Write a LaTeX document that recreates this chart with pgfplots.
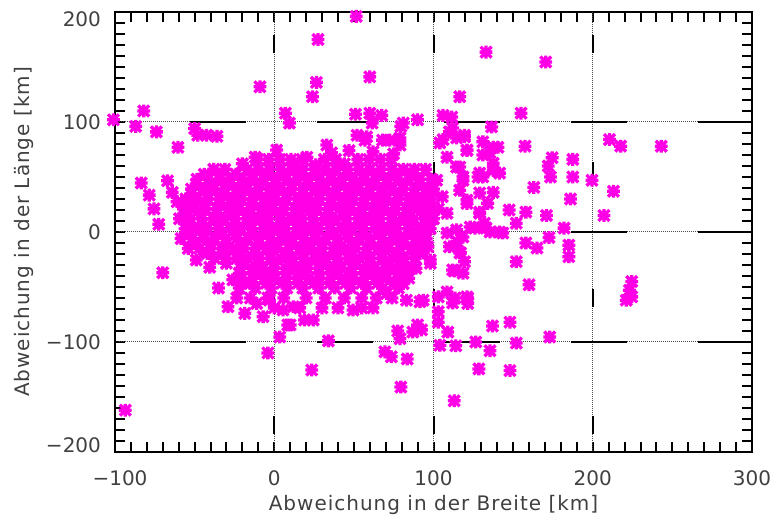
\documentclass[border=0pt]{standalone}
\usepackage{fontspec}
\setmainfont{DejaVu Sans}
\usepackage{pgfplots}
\pgfplotsset{compat=1.18}
\definecolor{mag}{RGB}{255,0,230}
\pgfdeclareplotmark{idlast}{%
 \pgfpathmoveto{\pgfqpoint{-\pgfplotmarksize}{0pt}}\pgfpathlineto{\pgfqpoint{\pgfplotmarksize}{0pt}}%
 \pgfpathmoveto{\pgfqpoint{0pt}{-\pgfplotmarksize}}\pgfpathlineto{\pgfqpoint{0pt}{\pgfplotmarksize}}%
 \pgfpathmoveto{\pgfqpoint{-.85\pgfplotmarksize}{-.85\pgfplotmarksize}}\pgfpathlineto{\pgfqpoint{.85\pgfplotmarksize}{.85\pgfplotmarksize}}%
 \pgfpathmoveto{\pgfqpoint{-.85\pgfplotmarksize}{.85\pgfplotmarksize}}\pgfpathlineto{\pgfqpoint{.85\pgfplotmarksize}{-.85\pgfplotmarksize}}%
 \pgfusepathqstroke}
\begin{document}
\begin{tikzpicture}
\useasboundingbox (-57.5pt,-32.5pt) rectangle (328pt,226pt);
\begin{axis}[
  scale only axis, width=318.5pt, height=220pt,
  at={(0,0)}, anchor=south west,
  xmin=-100, xmax=300, ymin=-200, ymax=200,
  xtick={-100,0,100,200,300}, ytick={-200,-100,0,100,200},
  xticklabels={\hspace{5pt}−100,0,100,200,300\hspace{4.5pt}},
  yticklabels={\raisebox{3.6pt}{−200},−100,0,100,\raisebox{-3.4pt}{200}},
  minor x tick num=9, minor y tick num=9,
  tick align=inside, major tick length=5pt, minor tick length=5pt,
  every tick/.style={black, line width=1pt},
  axis line style={black, line width=1.1pt},
  font=\fontsize{10}{12}\selectfont,
  ticklabel style={black!75},
  xticklabel style={anchor=base, yshift=-17pt},
  yticklabel style={anchor=base east, yshift=-3.65pt, xshift=-3.5pt},
  xlabel={Abweichung in der Breite [km]},
  ylabel={Abweichung in der Länge [km]},
  label style={black!75, font=\fontsize{10}{12}\selectfont\addfontfeatures{LetterSpace=5}},
  xlabel style={at={(axis description cs:0.5,-0.132)}, anchor=base},
  ylabel style={at={(axis description cs:-0.135,0.5)}, anchor=base},
  clip=false,
]
% grid: dotted base
\draw[black!70, line width=0.5pt, dash pattern=on 0.5pt off 0.5pt] (axis cs:-100,-100) -- (axis cs:300,-100);
\draw[black!70, line width=0.5pt, dash pattern=on 0.5pt off 0.5pt] (axis cs:-100,0) -- (axis cs:300,0);
\draw[black!70, line width=0.5pt, dash pattern=on 0.5pt off 0.5pt] (axis cs:-100,100) -- (axis cs:300,100);
\draw[black!70, line width=0.5pt, dash pattern=on 0.5pt off 0.5pt] (axis cs:0,200) -- (axis cs:0,-200);
\draw[black!70, line width=0.5pt, dash pattern=on 0.5pt off 0.5pt] (axis cs:100,200) -- (axis cs:100,-200);
\draw[black!70, line width=0.5pt, dash pattern=on 0.5pt off 0.5pt] (axis cs:200,200) -- (axis cs:200,-200);
% grid: long solid dashes
\draw[black, line width=1pt, dash pattern=on 28pt off 35.5pt, dash phase=26pt] (axis cs:-100,-100) -- (axis cs:300,-100);
\draw[black, line width=1pt, dash pattern=on 28pt off 35.5pt, dash phase=26pt] (axis cs:-100,0) -- (axis cs:300,0);
\draw[black, line width=1pt, dash pattern=on 28pt off 35.5pt, dash phase=26pt] (axis cs:-100,100) -- (axis cs:300,100);
\draw[black, line width=1pt, dash pattern=on 9pt off 54.5pt, dash phase=52pt] (axis cs:0,200) -- (axis cs:0,-200);
\draw[black, line width=1pt, dash pattern=on 9pt off 54.5pt, dash phase=52pt] (axis cs:100,200) -- (axis cs:100,-200);
\draw[black, line width=1pt, dash pattern=on 9pt off 54.5pt, dash phase=52pt] (axis cs:200,200) -- (axis cs:200,-200);
% scattered points
\addplot[only marks, mark=idlast, mark size=3.2pt, mag, line width=1.65pt] table {
x y
-101 102
-82 110
-87 96
-74 91
-60.5 77
-50 94
-48 88
-42.5 88
-36 87
-9 132
7 108
9.5 99
27.5 175
26.5 136
24 123
51.5 196
60 141
51 107
60 108
67.5 106
61.5 99
81 99
79.5 96
90 102
106 106
111.5 104.5
116.5 123
155 108
133 163.5
170.5 154.5
136.5 95.5
119.5 86.5
121 74
131 70
137.5 77
140.5 77
157.5 78
210.5 84
217.5 78
243 78
174.5 67.5
172 60
173.5 50
187.5 66
187.5 50
199.5 47
163 40.5
213 37
186 30
141.5 53.5
137.5 62.5
129 53.5
137.5 36
207 15
221 -62
224.5 -45
223 -53
224.5 -59
173 -95.5
148 -82
152 -101
137 -85.5
126.5 -100
135.5 -108
128.5 -124.5
148 -126
113 -153.5
114 -103.5
160 -48
152 -27
119.5 -27
117 -19
113 -35.5
113.5 -60
121.5 -60
121.5 -65
158 -10
165 -14.5
172.5 -5
182 3.5
185 -12
185 -22.5
171 15
158 18
147.5 20
152 8
143.5 -1
135.5 0
126 3.5
132 8
129 18
115 -9
-93.5 -162
79.5 -141
34 -99
23.5 -125.5
69.5 -109
73.5 -113.5
83.5 -115.5
77.5 -90
79 -97
90 -84.5
87 -91
92.5 -89
109 -91
104 -103
103 -72.5
103 -82
93.5 -62
103 -59
108.5 -54.5
112 -64.5
121 -59
49.5 -71
62 -69
24.5 -80
19 -80
10 -84.5
83 -62
91.5 -63.5
70.5 -56
81 -47
80 -37.5
71 -31.5
98 -28.5
112 -34.5
-70 -37
-49 -25.5
-40.5 -32
-35 -51
-29 -68
-23.5 -60
-18.5 -74
-7 -77
8.5 -84.5
3.5 -95.5
-4 -110
-26 -43.5
-18.5 -46.5
-11 -65
-3 -62
5.5 -71
12 -68
-83.5 44.5
-67 46.5
-78.5 33.5
-75.5 21
-72.5 7
-64 36
-61 27.5
-12 68
1.5 74.5
12 62.5
52 88
58 86.5
33 79
20.5 68
72.5 83.5
106 84
110 91
114.5 85.5
104 81
108.5 68
114.5 59
121 74.5
131 82
135.5 72
102 47
105.5 32
108.5 17
116.5 38
121 26
129 17
118.5 47
131 50
137.5 56
114.5 2
110 -13.5
98 -25.5
93.5 -19
118.5 -4.5
131 4.5
116.5 -19
118.5 -37.5
57 83.5
68 83.5
79 85.5
79 79
123 4.5
141.5 0
133 3.5
108.5 -1
96.5 -13.5
134 26
129 35.5
121 29
116.5 59
118.5 50
128 50
112 94.5
119.5 88
36 72
47 74
62 73
75 71
-20 62
26 61
44 62
};
% dense core
\addplot[only marks, mark=idlast, mark size=3.2pt, mag, line width=1.65pt] table {
x y
-10.5 66
-3.5 66
3.5 66
10.5 66
17.5 66
31.5 66
38.5 66
52.5 66
59.5 66
66.5 66
73.5 66
-38 57
-31 57
-17 57
-10 57
-3 57
4 57
11 57
18 57
25 57
32 57
39 57
46 57
53 57
60 57
67 57
74 57
81 57
88 57
95 57
-48.5 48
-41.5 48
-34.5 48
-27.5 48
-20.5 48
-13.5 48
-6.5 48
0.5 48
7.5 48
14.5 48
21.5 48
28.5 48
35.5 48
42.5 48
49.5 48
56.5 48
63.5 48
70.5 48
77.5 48
84.5 48
91.5 48
98.5 48
-52 39
-45 39
-38 39
-31 39
-24 39
-17 39
-10 39
-3 39
4 39
11 39
18 39
25 39
32 39
39 39
46 39
53 39
60 39
67 39
74 39
81 39
88 39
95 39
100 39
-55.5 30
-48.5 30
-41.5 30
-34.5 30
-27.5 30
-20.5 30
-13.5 30
-6.5 30
0.5 30
7.5 30
14.5 30
21.5 30
28.5 30
35.5 30
42.5 30
49.5 30
56.5 30
63.5 30
70.5 30
77.5 30
84.5 30
91.5 30
98.5 30
-57 21
-50 21
-43 21
-36 21
-29 21
-22 21
-15 21
-8 21
-1 21
6 21
13 21
20 21
27 21
34 21
41 21
48 21
55 21
62 21
69 21
76 21
83 21
90 21
97 21
103 21
-59.5 12
-52.5 12
-45.5 12
-38.5 12
-31.5 12
-24.5 12
-17.5 12
-10.5 12
-3.5 12
3.5 12
10.5 12
17.5 12
24.5 12
31.5 12
38.5 12
45.5 12
52.5 12
59.5 12
66.5 12
73.5 12
80.5 12
87.5 12
94.5 12
100 12
-56 3
-49 3
-42 3
-35 3
-28 3
-21 3
-14 3
-7 3
0 3
7 3
14 3
21 3
28 3
35 3
42 3
49 3
56 3
63 3
70 3
77 3
84 3
91 3
98 3
-58.5 -6
-51.5 -6
-44.5 -6
-37.5 -6
-30.5 -6
-23.5 -6
-16.5 -6
-9.5 -6
-2.5 -6
4.5 -6
11.5 -6
18.5 -6
25.5 -6
32.5 -6
39.5 -6
46.5 -6
53.5 -6
60.5 -6
67.5 -6
74.5 -6
81.5 -6
88.5 -6
95.5 -6
-54 -15
-47 -15
-40 -15
-33 -15
-26 -15
-19 -15
-12 -15
-5 -15
2 -15
9 -15
16 -15
23 -15
30 -15
37 -15
44 -15
51 -15
58 -15
65 -15
72 -15
79 -15
86 -15
93 -15
-37.5 -24
-30.5 -24
-23.5 -24
-16.5 -24
-9.5 -24
-2.5 -24
4.5 -24
11.5 -24
18.5 -24
25.5 -24
32.5 -24
39.5 -24
46.5 -24
53.5 -24
60.5 -24
67.5 -24
74.5 -24
81.5 -24
88.5 -24
-21 -33
-14 -33
-7 -33
0 -33
7 -33
14 -33
21 -33
28 -33
35 -33
42 -33
49 -33
56 -33
63 -33
70 -33
77 -33
84 -33
89 -33
-20.5 -42
-13.5 -42
-6.5 -42
0.5 -42
7.5 -42
14.5 -42
21.5 -42
28.5 -42
35.5 -42
42.5 -42
49.5 -42
56.5 -42
63.5 -42
70.5 -42
77.5 -42
84.5 -42
-22 -51
-12 -51
-2 -51
8 -51
18 -51
28 -51
38 -51
48 -51
58 -51
68 -51
78 -51
-15 -60
-4 -60
6 -60
20 -60
32 -60
44 -60
55 -60
64 -60
74 -60
0 -69
16 -69
30 -69
40 -69
55 -69
-44 52.5
-34 52.5
-24 52.5
-14 52.5
-4 52.5
6 52.5
16 52.5
26 52.5
36 52.5
46 52.5
56 52.5
66 52.5
76 52.5
86 52.5
-49 43.5
-39 43.5
-29 43.5
-19 43.5
-9 43.5
1 43.5
11 43.5
21 43.5
31 43.5
41 43.5
51 43.5
61 43.5
71 43.5
81 43.5
91 43.5
-52 34.5
-42 34.5
-32 34.5
-22 34.5
-12 34.5
-2 34.5
8 34.5
18 34.5
28 34.5
38 34.5
48 34.5
58 34.5
68 34.5
78 34.5
88 34.5
96 34.5
-54 25.5
-44 25.5
-34 25.5
-24 25.5
-14 25.5
-4 25.5
6 25.5
16 25.5
26 25.5
36 25.5
46 25.5
56 25.5
66 25.5
76 25.5
86 25.5
95 25.5
-56 16.5
-46 16.5
-36 16.5
-26 16.5
-16 16.5
-6 16.5
4 16.5
14 16.5
24 16.5
34 16.5
44 16.5
54 16.5
64 16.5
74 16.5
84 16.5
94 16.5
-55 7.5
-45 7.5
-35 7.5
-25 7.5
-15 7.5
-5 7.5
5 7.5
15 7.5
25 7.5
35 7.5
45 7.5
55 7.5
65 7.5
75 7.5
85 7.5
95 7.5
-54 -1.5
-44 -1.5
-34 -1.5
-24 -1.5
-14 -1.5
-4 -1.5
6 -1.5
16 -1.5
26 -1.5
36 -1.5
46 -1.5
56 -1.5
66 -1.5
76 -1.5
86 -1.5
94 -1.5
-50 -10.5
-40 -10.5
-30 -10.5
-20 -10.5
-10 -10.5
0 -10.5
10 -10.5
20 -10.5
30 -10.5
40 -10.5
50 -10.5
60 -10.5
70 -10.5
80 -10.5
90 -10.5
-42 -19.5
-32 -19.5
-22 -19.5
-12 -19.5
-2 -19.5
8 -19.5
18 -19.5
28 -19.5
38 -19.5
48 -19.5
58 -19.5
68 -19.5
78 -19.5
88 -19.5
-30 -28.5
-20 -28.5
-10 -28.5
0 -28.5
10 -28.5
20 -28.5
30 -28.5
40 -28.5
50 -28.5
60 -28.5
70 -28.5
80 -28.5
-22 -37.5
-12 -37.5
-2 -37.5
8 -37.5
18 -37.5
28 -37.5
38 -37.5
48 -37.5
58 -37.5
68 -37.5
78 -37.5
-15 -46.5
-5 -46.5
5 -46.5
15 -46.5
25 -46.5
35 -46.5
45 -46.5
55 -46.5
65 -46.5
75 -46.5
};
\end{axis}
\end{tikzpicture}
\end{document}
